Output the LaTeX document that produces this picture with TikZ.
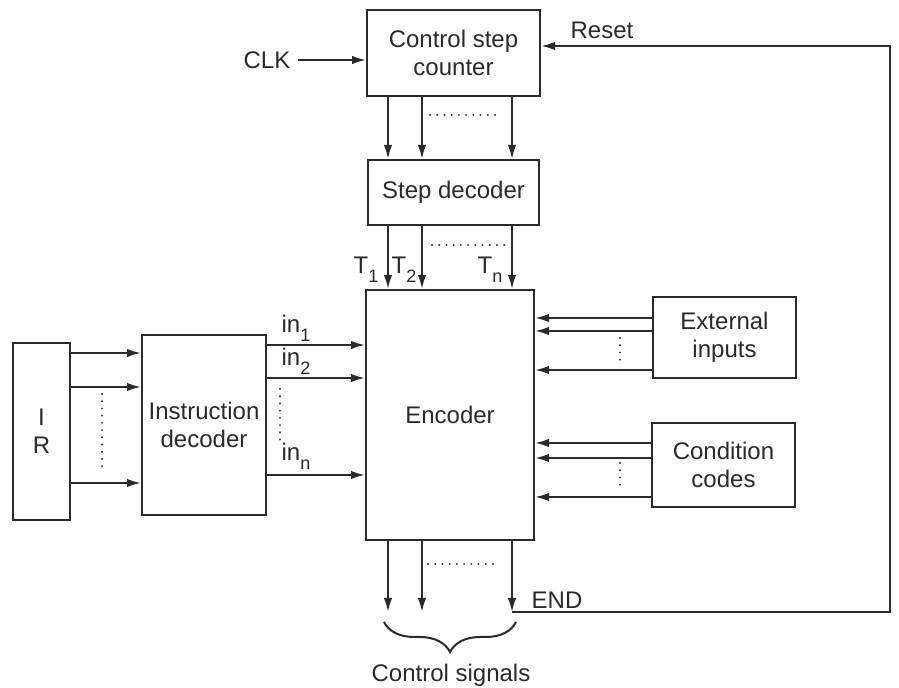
\documentclass[tikz,border=0pt]{standalone}
\usepackage{fontspec}
\setmainfont{Liberation Sans}
\usepackage{xcolor}
\usepackage{tikz}
\usetikzlibrary{positioning,arrows.meta,decorations.pathreplacing}
\definecolor{ink}{HTML}{2A2A2A}
\newcommand{\subtxt}[1]{\raisebox{-0.7ex}{\small #1}}

\begin{document}
\begin{tikzpicture}[x=0.5pt, y=-0.5pt, >={Latex[length=7pt,width=4.2pt]}, line width=1pt, color=ink,
  every node/.style={font=\fontsize{12}{14}\selectfont, text=ink},
  blk/.style={draw, align=center, inner sep=0pt},
  sig/.style={->},
  dots/.style={line width=1.1pt, dash pattern=on 0.01pt off 3.6pt, line cap=round}]
\useasboundingbox (0,0) rectangle (899,688);
\node[blk, minimum width=86.5pt, minimum height=43pt] (counter) at (453.5,53) {Control step\\counter};
\node[blk, minimum width=85.5pt, minimum height=32.5pt] (stepdec) at (453.5,192.5) {Step decoder};
\node[blk, minimum width=84pt, minimum height=125pt] (enc) at (450,415) {Encoder};
\node[blk, minimum width=28.5pt, minimum height=88.5pt] (ir) at (41.5,431.5) {I\\R};
\node[blk, minimum width=62pt, minimum height=90pt] (insdec) at (204,425) {Instruction\\decoder};
\node[blk, minimum width=71.5pt, minimum height=40.5pt] (ext) at (724.5,337.5) {External\\inputs};
\node[blk, minimum width=71.5pt, minimum height=42pt] (cond) at (723.5,465) {Condition\\codes};
% labels
\node (clk) at (267,60) {CLK};
\node (reset) at (602,30) {Reset};
\node (t1) at (366,270) {T\subtxt{1}};
\node (t2) at (404,270) {T\subtxt{2}};
\node (tn) at (490,270) {T\subtxt{n}};
\node (in1) at (296,328) {in\subtxt{1}};
\node (in2) at (296,361) {in\subtxt{2}};
\node (inn) at (296,456) {in\subtxt{n}};
\node (endlbl) at (557,600) {END};
\node (csig) at (451,675) {Control signals};
\coordinate (k1) at (388,0);
\coordinate (k2) at (422,0);
\coordinate (k3) at (512,0);
\coordinate (endpt) at (512,612);
\coordinate (rb) at (890,612);
\coordinate (rt) at (890,46);
% counter, step decoder, encoder
\draw[sig] (clk) -- (counter.west |- clk);
\draw[sig] (counter.south -| k1) -- (stepdec.north -| k1);
\draw[sig] (counter.south -| k2) -- (stepdec.north -| k2);
\draw[sig] (counter.south -| k3) -- (stepdec.north -| k3);
\draw[sig] (stepdec.south -| k1) -- (enc.north -| k1);
\draw[sig] (stepdec.south -| k2) -- (enc.north -| k2);
\draw[sig] (stepdec.south -| k3) -- (enc.north -| k3);
\draw[sig] (enc.south -| k1) -- (k1 |- endpt);
\draw[sig] (enc.south -| k2) -- (k2 |- endpt);
\draw[sig] (enc.south -| k3) -- (endpt);
\draw[sig] (endpt) -- (rb) -- (rt) -- (counter.east |- rt);
% left side
\draw[sig] (ir.east |- 0,353) -- (insdec.west |- 0,353);
\draw[sig] (ir.east |- 0,387) -- (insdec.west |- 0,387);
\draw[sig] (ir.east |- 0,483) -- (insdec.west |- 0,483);
\draw[sig] (insdec.east |- 0,345) -- (enc.west |- 0,345);
\draw[sig] (insdec.east |- 0,378) -- (enc.west |- 0,378);
\draw[sig] (insdec.east |- 0,475) -- (enc.west |- 0,475);
% right side
\draw[sig] (ext.west |- 0,318) -- (enc.east |- 0,318);
\draw[sig] (ext.west |- 0,331) -- (enc.east |- 0,331);
\draw[sig] (ext.west |- 0,370) -- (enc.east |- 0,370);
\draw[sig] (cond.west |- 0,443) -- (enc.east |- 0,443);
\draw[sig] (cond.west |- 0,458) -- (enc.east |- 0,458);
\draw[sig] (cond.west |- 0,497) -- (enc.east |- 0,497);
% dotted gaps
\draw[dots] (430,115) -- (502,115);
\draw[dots] (432,245) -- (505,245);
\draw[dots] (428,564) -- (500,564);
\draw[dots] (102,394) -- (102,470);
\draw[dots] (280,389) -- (280,440);
\draw[dots] (620,338) -- (620,362);
\draw[dots] (620,463) -- (620,489);
\draw[decorate, decoration={brace, mirror, amplitude=15pt, aspect=0.5}] (384,622) -- (516,622);
\end{tikzpicture}
\end{document}
